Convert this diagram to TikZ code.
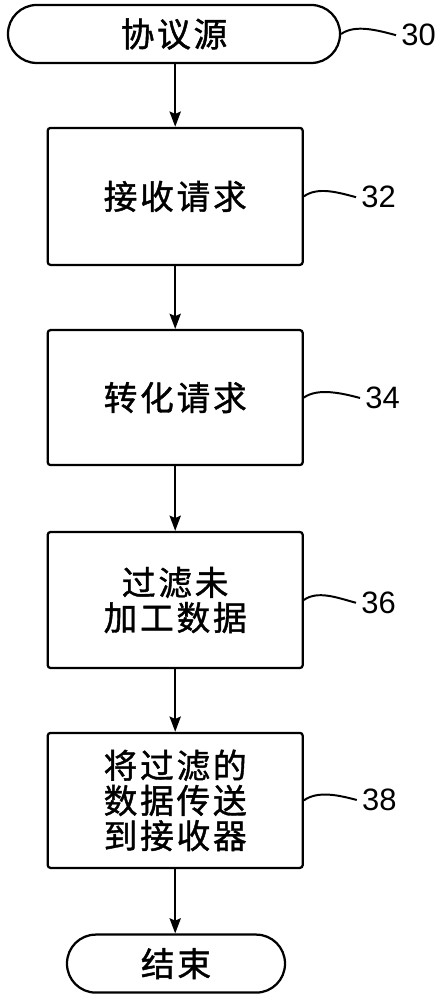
\documentclass[tikz,border=0pt]{standalone}
\usepackage{fontspec}
\usepackage{tikz}
\usetikzlibrary{arrows.meta}
\newfontfamily\cjk[LetterSpace=8, FakeBold=1.2]{Noto Sans CJK SC}
\newfontfamily\numfont{Liberation Sans}

\begin{document}
\begin{tikzpicture}[>={Stealth[length=0.38cm, width=0.28cm, inset=0.06cm]}, line width=1.6pt,
    terminal/.style={draw, rounded corners=0.72cm, minimum height=1.45cm, font=\cjk\fontsize{24}{25}\selectfont},
    stepbox/.style={draw, rounded corners=2pt, minimum width=6.375cm, align=center, font=\cjk\fontsize{24}{25}\selectfont},
    refnum/.style={font=\numfont\fontsize{22}{24}\selectfont, anchor=west, inner sep=3pt}]

    %% Background
    \draw[draw=none] (0,0) rectangle (10.975,25);

    % Terminals
    \node[terminal, minimum width=8.3cm] (source) at (4.35,24.15) {协议源};
    \node[terminal, minimum width=5.45cm] (end) at (4.4,0.91) {结束};

    % Steps
    \node[stepbox, minimum height=3.425cm] (receive) at (4.38,20.09) {接收请求};
    \node[stepbox, minimum height=3.375cm] (convert) at (4.38,15.06) {转化请求};
    \node[stepbox, minimum height=3.4cm] (filter) at (4.38,10.0) {过滤未\\加工数据};
    \node[stepbox, minimum height=3.375cm] (send) at (4.38,4.99) {将过滤的\\数据传送\\到接收器};

    % Flow
    \draw[->] (source.south -| receive.north) -- (receive.north);
    \draw[->] (receive) -- (convert);
    \draw[->] (convert) -- (filter);
    \draw[->] (filter) -- (send);
    \draw[->] (send.south) -- (send.south |- end.north);

    % Reference numerals
    \node[refnum] (n30) at (9.9,24.12) {30};
    \node[refnum] (n32) at (8.9,20.07) {32};
    \node[refnum] (n34) at (9.0,15.05) {34};
    \node[refnum] (n36) at (8.9,9.93) {36};
    \node[refnum] (n38) at (8.92,5.0) {38};

    \draw[line width=1.4pt] (source.east) .. controls +(0.35,0.25) and +(-0.45,0.12) .. (n30.west);
    \draw[line width=1.4pt] (receive.east) .. controls +(0.35,0.25) and +(-0.45,0.12) .. (n32.west);
    \draw[line width=1.4pt] (convert.east) .. controls +(0.35,0.25) and +(-0.45,0.12) .. (n34.west);
    \draw[line width=1.4pt] (filter.east) .. controls +(0.35,0.25) and +(-0.45,0.12) .. (n36.west);
    \draw[line width=1.4pt] (send.east) .. controls +(0.35,0.25) and +(-0.45,0.12) .. (n38.west);

\end{tikzpicture}
\end{document}
